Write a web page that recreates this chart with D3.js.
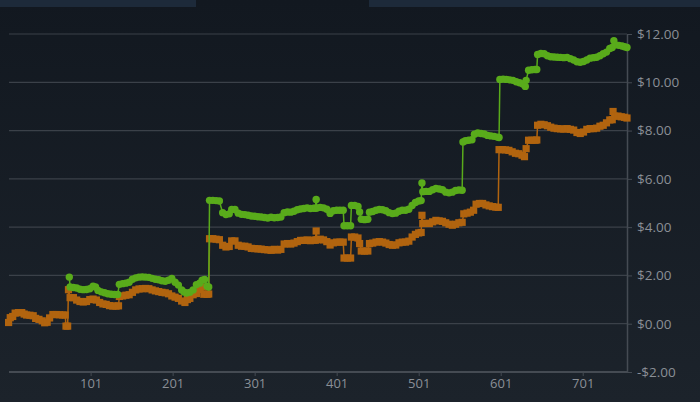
<!DOCTYPE html>
<html><head><meta charset="utf-8">
<script src="https://cdn.jsdelivr.net/npm/d3@7"></script>
<style>html,body{margin:0;padding:0;background:#161d25;} svg{display:block}</style>
</head><body><svg id="c" width="700" height="402"></svg>
<script>
const xTicks = [101, 201, 301, 401, 501, 601, 701];
const yTicks = [-2, 0, 2, 4, 6, 8, 10, 12];

const orangeIdx = [1,3,6,9,13,17,20,23,27,31,34,38,42,45,48,51,55,59,63,67,70,71,73,74,76,80,84,88,92,96,100,104,108,112,116,120,124,128,132,135,136,140,144,148,152,156,160,164,168,172,176,180,184,188,192,196,200,204,208,212,216,219,222,226,230,234,237,239,243,245,246,250,254,258,262,266,270,273,277,281,285,289,293,297,301,305,309,313,317,321,325,329,333,337,341,345,349,353,357,361,365,369,373,375,376,377,381,385,389,393,397,401,405,409,410,414,418,419,423,427,429,431,435,439,441,445,449,453,457,461,465,469,473,477,481,485,489,493,497,501,504,505,506,510,514,518,522,526,530,534,538,542,546,550,554,556,560,564,568,571,575,579,583,587,591,595,598,599,603,607,611,615,619,623,627,630,632,635,639,643,645,646,650,654,658,662,666,670,674,678,682,686,690,694,698,702,706,710,714,718,722,726,730,734,737,738,740,744,748,752,755];
const orangeVal = [0.05,0.25,0.30,0.44,0.46,0.46,0.40,0.36,0.35,0.33,0.22,0.18,0.12,0.04,0.06,0.24,0.38,0.38,0.37,0.36,0.36,-0.10,-0.10,1.41,1.08,1.08,0.98,0.92,0.90,0.92,1.00,1.02,0.98,0.88,0.82,0.80,0.75,0.73,0.73,0.74,1.13,1.15,1.18,1.20,1.30,1.40,1.44,1.45,1.46,1.45,1.40,1.36,1.33,1.30,1.28,1.24,1.15,1.10,1.05,0.94,0.88,1.00,1.05,1.20,1.25,1.42,1.52,1.22,1.22,1.23,3.52,3.52,3.50,3.48,3.25,3.18,3.20,3.43,3.43,3.25,3.21,3.21,3.18,3.12,3.11,3.10,3.09,3.07,3.06,3.04,3.08,3.05,3.08,3.30,3.32,3.30,3.34,3.40,3.45,3.45,3.47,3.44,3.46,3.46,3.84,3.48,3.50,3.47,3.40,3.26,3.35,3.38,3.38,3.38,2.72,2.72,2.72,3.59,3.59,3.55,3.32,3.01,3.01,3.01,3.32,3.34,3.38,3.40,3.38,3.34,3.28,3.25,3.26,3.35,3.38,3.38,3.42,3.59,3.70,3.76,3.78,4.49,4.15,4.16,4.15,4.22,4.28,4.26,4.24,4.18,4.12,4.08,4.12,4.18,4.20,4.55,4.58,4.62,4.70,4.95,4.98,4.98,4.92,4.88,4.85,4.83,4.82,7.21,7.21,7.20,7.18,7.12,7.06,7.04,6.98,6.92,7.25,7.60,7.60,7.60,7.61,8.22,8.26,8.24,8.20,8.14,8.10,8.08,8.07,8.06,8.08,8.05,8.02,7.92,7.88,7.94,8.05,8.08,8.08,8.10,8.18,8.22,8.32,8.44,8.45,8.79,8.60,8.60,8.57,8.55,8.52];

const greenIdx = [75,76,80,84,88,92,96,100,104,107,110,114,118,122,126,130,134,136,140,144,148,152,156,160,164,168,172,176,180,184,188,192,196,200,204,208,212,215,218,222,226,230,234,237,240,243,245,246,250,254,258,262,266,270,273,277,281,285,289,293,297,301,305,309,313,317,321,325,329,333,337,341,345,349,353,357,361,365,369,373,375,376,377,381,385,389,393,397,401,405,409,410,414,418,419,423,427,429,431,435,439,441,445,449,453,457,461,465,469,473,477,481,485,489,493,497,501,504,505,506,510,514,518,522,526,530,534,538,542,546,550,554,555,558,562,566,569,573,577,581,585,589,593,597,599,600,604,608,612,616,620,624,628,631,632,635,639,643,645,646,650,654,658,662,666,670,674,678,682,686,690,694,698,702,706,710,714,718,722,726,730,734,737,739,741,745,749,752,755];
const greenVal = [1.93,1.52,1.50,1.48,1.43,1.41,1.42,1.45,1.55,1.52,1.38,1.32,1.28,1.24,1.22,1.21,1.21,1.63,1.66,1.68,1.72,1.84,1.90,1.93,1.94,1.93,1.92,1.88,1.84,1.82,1.78,1.76,1.80,1.87,1.72,1.60,1.40,1.31,1.27,1.30,1.40,1.62,1.68,1.80,1.83,1.55,1.52,5.11,5.11,5.10,5.08,4.60,4.52,4.55,4.73,4.73,4.58,4.53,4.52,4.49,4.46,4.45,4.43,4.42,4.40,4.38,4.41,4.39,4.40,4.42,4.60,4.63,4.62,4.66,4.72,4.75,4.77,4.80,4.77,4.78,4.78,5.15,4.79,4.82,4.80,4.74,4.57,4.68,4.70,4.70,4.70,4.06,4.06,4.06,4.90,4.90,4.86,4.63,4.33,4.31,4.33,4.62,4.65,4.70,4.73,4.72,4.68,4.60,4.56,4.58,4.66,4.70,4.70,4.74,4.90,5.02,5.08,5.10,5.83,5.47,5.48,5.48,5.55,5.60,5.58,5.55,5.45,5.42,5.45,5.52,5.54,5.53,7.53,7.58,7.60,7.62,7.85,7.90,7.88,7.86,7.80,7.78,7.76,7.73,7.71,10.12,10.13,10.12,10.10,10.08,10.02,9.98,9.93,9.83,10.08,10.50,10.52,10.53,10.53,11.15,11.19,11.18,11.10,11.06,11.05,11.04,11.03,11.02,11.03,10.98,10.92,10.85,10.83,10.86,10.92,11.00,11.02,11.04,11.10,11.18,11.25,11.40,11.44,11.72,11.55,11.53,11.50,11.47,11.44];

const W = 700, H = 402;
const svg = d3.select('#c');
const defs = svg.append('defs');
const grad = defs.append('linearGradient').attr('id','bg').attr('x1',0).attr('y1',0).attr('x2',0).attr('y2',1);
grad.append('stop').attr('offset','0%').attr('stop-color','#121820');
grad.append('stop').attr('offset','100%').attr('stop-color','#1c232b');
svg.append('rect').attr('width',W).attr('height',H).attr('fill','url(#bg)');
svg.append('rect').attr('x',0).attr('y',0).attr('width',196).attr('height',7).attr('fill','#1d2a3a');
svg.append('rect').attr('x',369).attr('y',0).attr('width',331).attr('height',7).attr('fill','#1d2a3a');

const x = d3.scaleLinear().domain([1, 755]).range([8.6, 627]);
const y = d3.scaleLinear().domain([-2, 12]).range([372, 34]);

// grid
svg.append('g').selectAll('line').data(yTicks.filter(d => d > -2)).join('line')
  .attr('x1', 9).attr('x2', 627).attr('y1', d => y(d)).attr('y2', d => y(d))
  .attr('stroke', '#3b4149').attr('stroke-width', 1.2);

const fmt = d => (d < 0 ? '-$' : '$') + Math.abs(d).toFixed(2);
const yAxis = svg.append('g').attr('transform', 'translate(627,0)')
  .call(d3.axisRight(y).tickValues(yTicks).tickFormat(fmt).tickSize(5).tickPadding(5).tickSizeOuter(0));
yAxis.select('.domain').attr('stroke', '#454b53').attr('stroke-width', 1.5);
yAxis.selectAll('.tick line').attr('stroke', '#454b53');
yAxis.selectAll('text').attr('fill', '#8a8f96').style('font-family', '"Open Sans", sans-serif').style('font-size', '13.5px');

const xAxis = svg.append('g').attr('transform', 'translate(0,372)')
  .call(d3.axisBottom(x).tickValues(xTicks).tickSize(4).tickPadding(3).tickSizeOuter(0));
xAxis.select('.domain').attr('stroke', '#454b53').attr('stroke-width', 2).attr('d', 'M9,0H627');
xAxis.selectAll('.tick line').attr('stroke', '#454b53');
xAxis.selectAll('text').attr('fill', '#8a8f96').style('font-family', '"Open Sans", sans-serif').style('font-size', '13px');

function series(idx, val, color, shape) {
  const pts = idx.map((d, i) => [d, val[i]]);
  const g = svg.append('g');
  g.append('path').datum(pts)
    .attr('d', d3.line().x(d => x(d[0])).y(d => y(d[1])))
    .attr('fill', 'none').attr('stroke', color).attr('stroke-width', 1.5);
  if (shape === 'circle') {
    g.selectAll('circle').data(pts).join('circle')
      .attr('cx', d => x(d[0])).attr('cy', d => y(d[1])).attr('r', 3.7).attr('fill', color);
  } else {
    g.selectAll('rect').data(pts).join('rect')
      .attr('x', d => x(d[0]) - 3.6).attr('y', d => y(d[1]) - 3.6)
      .attr('width', 7.2).attr('height', 7.2).attr('fill', color);
  }
}
series(orangeIdx, orangeVal, '#b1640f', 'square');
series(greenIdx, greenVal, '#59ab1b', 'circle');
</script></body></html>
